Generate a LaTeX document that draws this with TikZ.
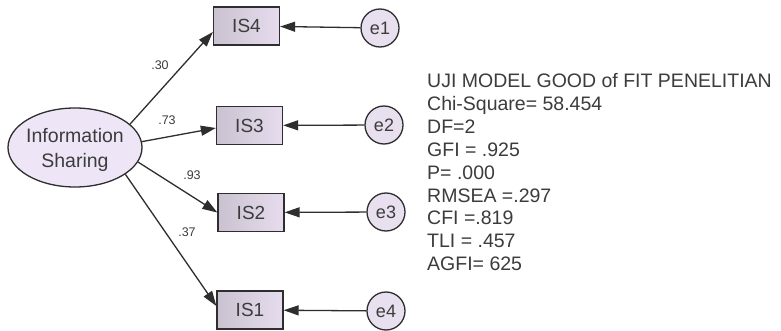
\documentclass[tikz,border=0pt]{standalone}
\usepackage{fontspec}
\setmainfont{Liberation Sans}
\usetikzlibrary{arrows.meta,shapes.geometric}
\definecolor{ln}{HTML}{2E2E2E}
\definecolor{tx}{HTML}{3C3C3C}
\definecolor{boxL}{HTML}{CAC2D0}
\definecolor{boxR}{HTML}{E6DCEE}
\definecolor{errfill}{HTML}{E8E0EE}
\definecolor{latfill}{HTML}{EEE6F6}
\tikzset{
  obs/.style={draw=ln, line width=1.3pt, left color=boxL, right color=boxR, minimum width=66pt, minimum height=38pt, inner sep=0pt, font=\fontsize{19}{22}\selectfont, text=tx},
  err/.style={circle, draw=ln, line width=1.3pt, fill=errfill, minimum size=38pt, inner sep=0pt, font=\fontsize{18}{21}\selectfont, text=tx},
  lat/.style={ellipse, draw=ln, line width=1.3pt, fill=latfill, minimum width=134pt, minimum height=79pt, inner sep=0pt},
  latlabel/.style={font=\fontsize{19.5}{25}\selectfont, text=tx, align=center, inner sep=0pt},
  path/.style={draw=ln, line width=1.3pt, -{Triangle[length=15pt,width=10pt]}},
  coef/.style={font=\fontsize{12.5}{14}\selectfont, text=tx, inner sep=0pt},
  fitline/.style={font=\fontsize{19.5}{22.8}\selectfont, text=tx, anchor=base west, inner sep=0pt}
}
\begin{document}
\begin{tikzpicture}[x=1pt,y=-1pt]
\useasboundingbox[fill=white] (0,0) rectangle (781,331);
\node[lat] (lat) at (75,147.5) {};
\node[latlabel] (latlab) at (75,150) {Information\\Sharing};
\node[obs] (is4) at (246.5,26) {IS4};
\node[obs] (is3) at (249.5,125.5) {IS3};
\node[obs] (is2) at (251,212.5) {IS2};
\node[obs] (is1) at (250,310) {IS1};
\node[err] (e1) at (380,28) {e1};
\node[err] (e2) at (384,125) {e2};
\node[err] (e3) at (386,212) {e3};
\node[err] (e4) at (386,311) {e4};
\draw[path] (lat.23) -- ([yshift=-6pt]is4.west);
\draw[path] (lat.5) -- ([yshift=-2.5pt]is3.west);
\draw[path] (lat.-13) -- (is2.west);
\draw[path] (lat.-28) -- ([yshift=4pt]is1.west);
\draw[path] (e1) -- (is4);
\draw[path] (e2) -- (is3);
\draw[path] (e3) -- (is2);
\draw[path] (e4) -- (is1);
\node[coef] (c1) at (160,65) {.30};
\node[coef] (c2) at (167,120) {.73};
\node[coef] (c3) at (192,175) {.93};
\node[coef] (c4) at (187,232) {.37};
\node[fitline] (f1) at (427,88) {UJI MODEL GOOD of FIT PENELITIAN};
\node[fitline] (f2) at (427,110.8) {Chi-Square= 58.454};
\node[fitline] (f3) at (427,133.6) {DF=2};
\node[fitline] (f4) at (427,156.4) {GFI = .925};
\node[fitline] (f5) at (427,179.2) {P= .000};
\node[fitline] (f6) at (427,202) {RMSEA =.297};
\node[fitline] (f7) at (427,224.8) {CFI =.819};
\node[fitline] (f8) at (427,247.6) {TLI = .457};
\node[fitline] (f9) at (427,270.4) {AGFI= 625};
\end{tikzpicture}
\end{document}
